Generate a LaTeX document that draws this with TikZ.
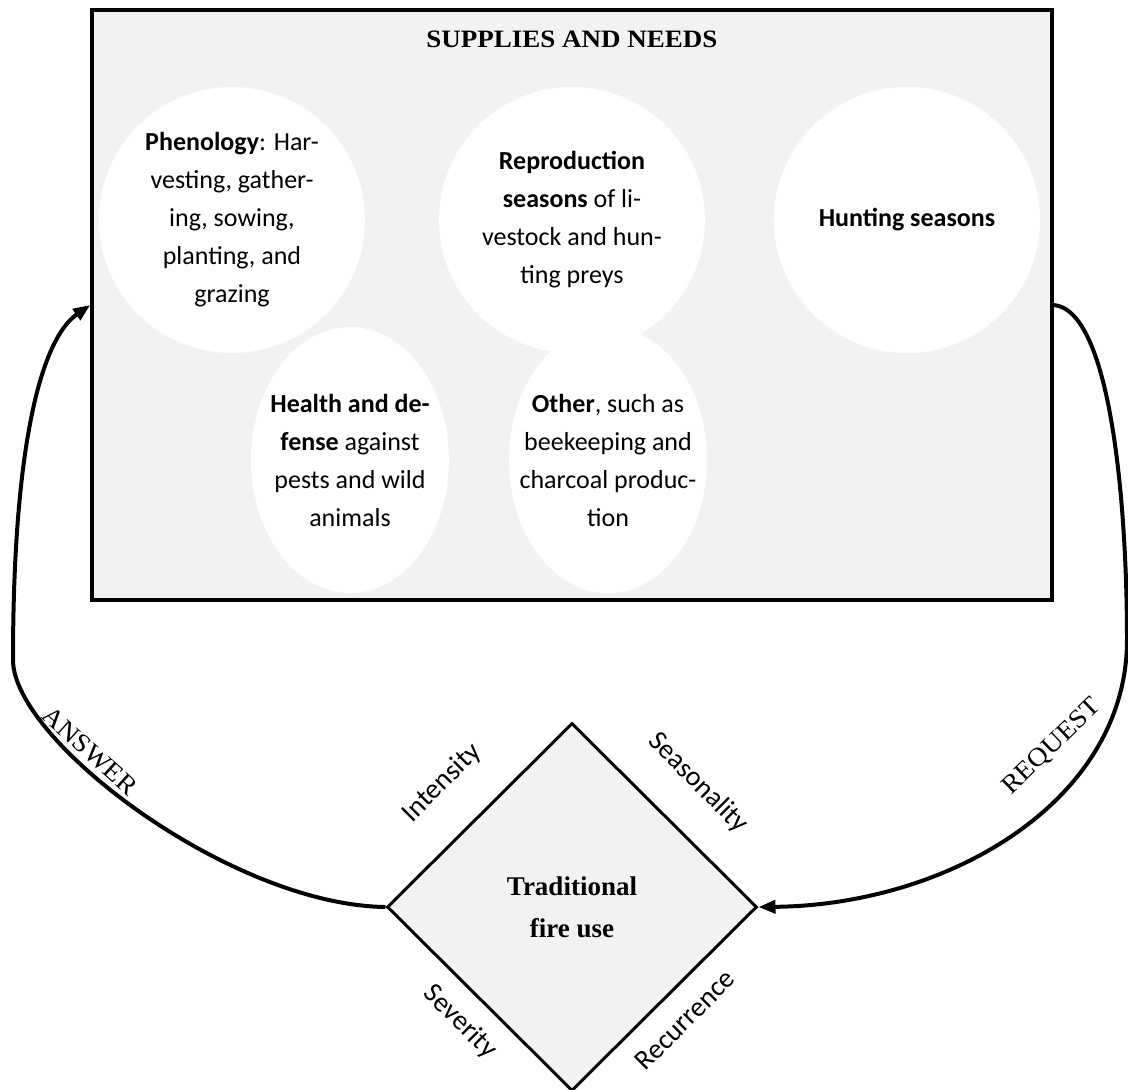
\documentclass[tikz,border=0pt]{standalone}
\usepackage{fontspec}
\setmainfont{Carlito}
\newfontfamily\serifw[FakeStretch=1.08]{Liberation Serif}
\newfontfamily\serifn{Liberation Serif}
\usetikzlibrary{shapes.geometric,arrows.meta}
\begin{document}
\begin{tikzpicture}[x=1pt,y=-1pt,
 panel/.style={draw=black, line width=3.5pt, fill=black!5, minimum width=960pt, minimum height=590pt, inner sep=0pt},
 bubble/.style={circle, fill=white, minimum size=266pt, inner sep=0pt},
 bubbleo/.style={ellipse, fill=white, minimum width=198pt, minimum height=266pt, inner sep=0pt},
 btext/.style={align=center, inner sep=0pt, font=\fontsize{26}{38}\selectfont},
 firebox/.style={diamond, draw=black, line width=3pt, fill=black!5, minimum width=370pt, minimum height=368pt, inner sep=0pt, align=center, font=\serifn\bfseries\fontsize{27}{42}\selectfont},
 edgelab/.style={font=\fontsize{28}{30}\selectfont, inner sep=0pt},
 looplab/.style={font=\serifw\fontsize{26}{28}\selectfont, inner sep=0pt},
 conn/.style={line width=4pt, -{Triangle[length=17pt,width=13pt]}},
]
\useasboundingbox (0,0) rectangle (1128,1090);
% panel
\node[panel] (supplies) at (572,305) {};
\node[font=\serifw\bfseries\fontsize{25}{28}\selectfont, inner sep=0pt] (title) at (572,39) {SUPPLIES AND NEEDS};
% bubbles
\node[bubble] (phen) at (232,220) {};
\node[bubble] (repr) at (572,220) {};
\node[bubble] (hunt) at (907,220) {};
\node[bubbleo] (health) at (350,460) {};
\node[bubbleo] (other) at (608,460) {};
\node[btext] (phent) at (phen) {\textbf{Phenology}: Har-\\vesting, gather-\\ing, sowing,\\planting, and\\grazing};
\node[btext] (reprt) at (repr) {\textbf{Reproduction}\\\textbf{seasons} of li-\\vestock and hun-\\ting preys};
\node[btext] (huntt) at (hunt) {\textbf{Hunting seasons}};
\node[btext] (healtht) at (health) {\textbf{Health and de-}\\\textbf{fense} against\\pests and wild\\animals};
\node[btext] (othert) at (other) {\textbf{Other}, such as\\beekeeping and\\charcoal produc-\\tion};
% diamond
\node[firebox] (fire) at (572,907) {Traditional\\fire use};
\node[edgelab, rotate=45] (lint) at (442,783) {Intensity};
\node[edgelab, rotate=-45] (lsea) at (698,783) {Seasonality};
\node[edgelab, rotate=-45] (lsev) at (460,1022) {Severity};
\node[edgelab, rotate=45] (lrec) at (685,1020) {Recurrence};
% loops
\draw[conn] (fire.west) .. controls (230,905) and (13,740) .. (13,660)
  .. controls (13,450) and (40,340) .. (supplies.west);
\draw[conn] (supplies.east) .. controls (1110,310) and (1127,500) .. (1127,640)
  .. controls (1127,800) and (950,905) .. (fire.east);
\node[looplab, rotate=-42] (lans) at (90,751) {ANSWER};
\node[looplab, rotate=44] (lreq) at (1052,747) {REQUEST};
\end{tikzpicture}
\end{document}
